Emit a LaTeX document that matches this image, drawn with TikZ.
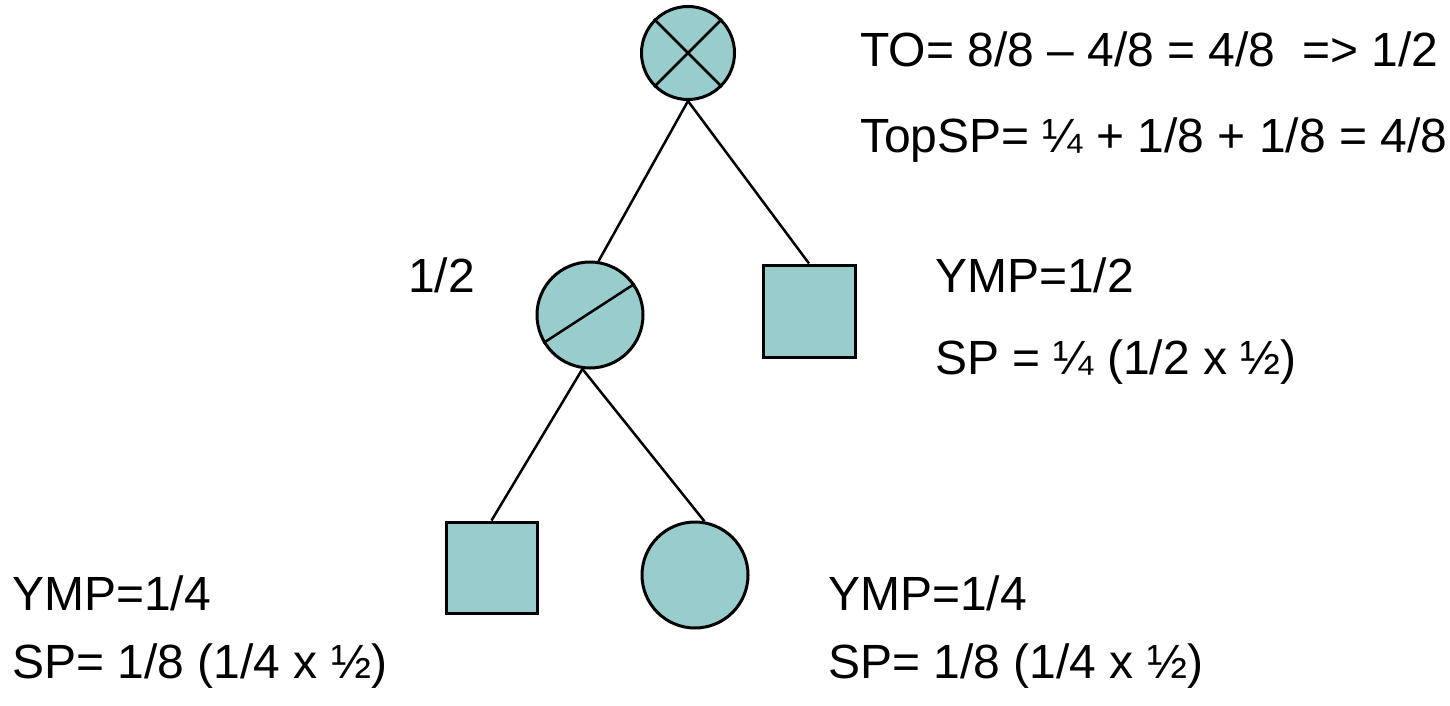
\documentclass[tikz,border=0pt]{standalone}
\usepackage{fontspec}
\setmainfont{Liberation Sans}
\definecolor{fillteal}{RGB}{153,204,204}
\begin{document}
\begin{tikzpicture}[x=1pt,y=-1pt,
  shp/.style={draw=black,line width=3pt,fill=fillteal,inner sep=0pt},
  circ/.style={shp,circle},
  sq/.style={shp,rectangle},
  conn/.style={draw=black,line width=2.5pt},
  lbl/.style={anchor=base west,inner sep=0pt,font=\fontsize{48}{58}\selectfont}]
\useasboundingbox (0,0) rectangle (1450,706);
\node[circ,minimum size=93pt] (top) at (688,53) {};
\node[circ,minimum size=106pt] (mid) at (590,315) {};
\node[sq,minimum size=92pt] (rsq) at (809,311) {};
\node[sq,minimum size=91pt] (bsq) at (491.5,567.5) {};
\node[circ,minimum size=106pt] (bcirc) at (695,575) {};
\draw[conn] (top.45) -- (top.225);
\draw[conn] (top.135) -- (top.-45);
\draw[conn] (mid.211) -- (mid.35);
\draw[conn] (top.south) -- (mid.81);
\draw[conn] (top.south) -- (rsq.north);
\draw[conn] (mid.-98) -- (bsq.north);
\draw[conn] (mid.-98) -- (bcirc.80);
\node[lbl] (t1) at (860,67) {TO= 8/8 – 4/8 = 4/8 \ => 1/2};
\node[lbl] (t2) at (860,152) {TopSP= ¼ + 1/8 + 1/8 = 4/8};
\node[lbl] (h) at (408,292) {1/2};
\node[lbl] (r1) at (935,292) {YMP=1/2};
\node[lbl] (r2) at (935,374) {SP = ¼ (1/2 x ½)};
\node[lbl] (l1) at (12,610) {YMP=1/4};
\node[lbl] (l2) at (12,678) {SP= 1/8 (1/4 x ½)};
\node[lbl] (b1) at (828,610) {YMP=1/4};
\node[lbl] (b2) at (828,678) {SP= 1/8 (1/4 x ½)};
\end{tikzpicture}
\end{document}
